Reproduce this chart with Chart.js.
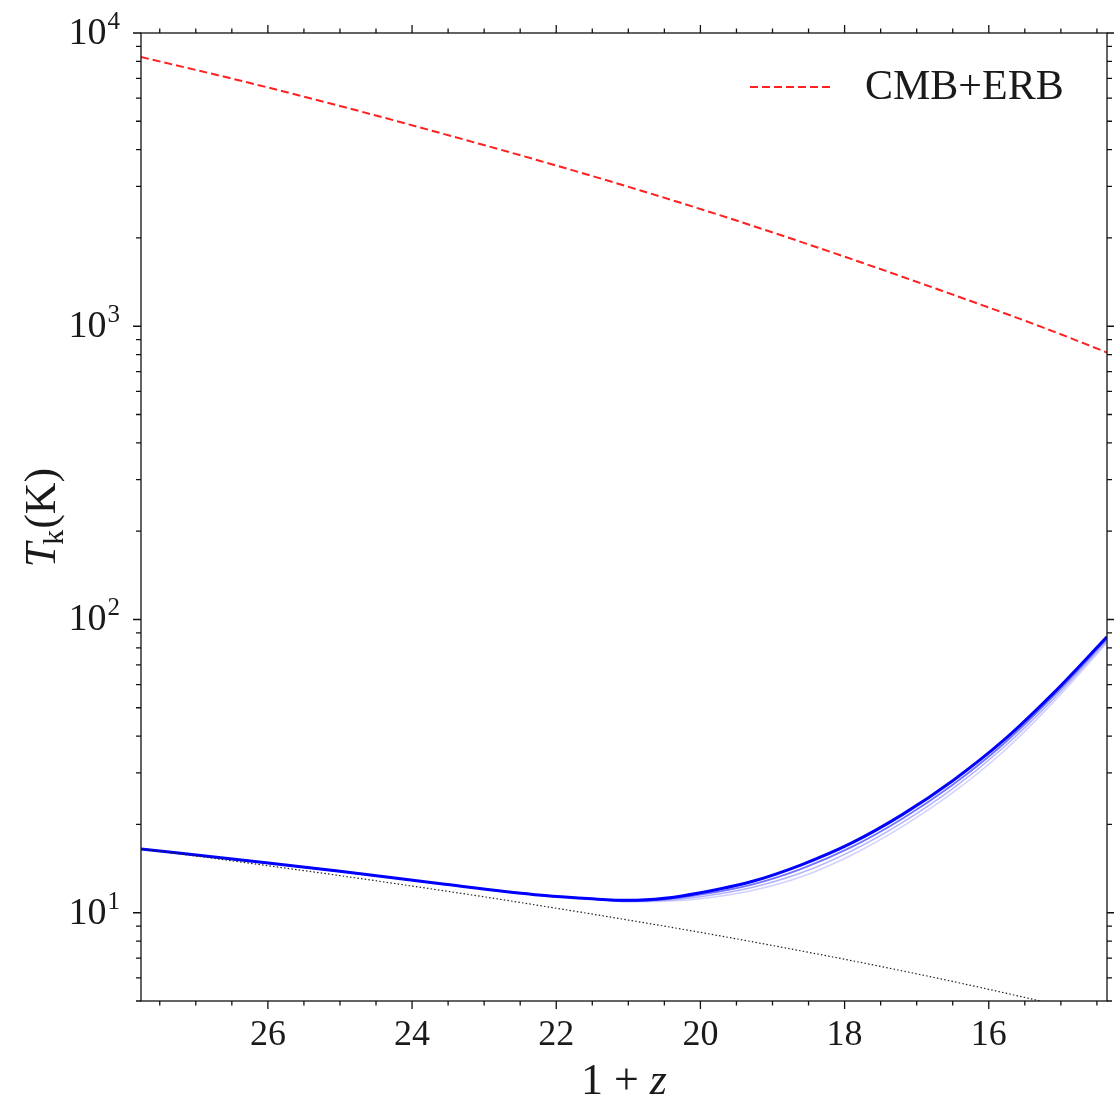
<!DOCTYPE html>
<html>
<head>
<meta charset="utf-8">
<script src="https://cdn.jsdelivr.net/npm/chart.js@4.4.1/dist/chart.umd.min.js"></script>
<style>
html, body { margin: 0; padding: 0; background: #fff; }
</style>
</head>
<body>
<canvas id="tkChart" width="1114" height="1101"></canvas>
<script>
"use strict";

/*******************
  DATA
*******************/

// CMB+ERB temperature, red dashed
var zRed = [27.76, 26.39, 25.0, 23.61, 22.22, 20.83, 19.44, 18.05, 16.66, 15.27, 14.36];
var tRed = [8282, 6887, 5638, 4561, 3661, 2904, 2268, 1743, 1324, 995, 814];

// gas kinetic temperature, family of blue curves
var zBlue = [27.76, 26.4, 25.0, 23.6, 22.2, 21.5, 21.0, 20.5, 20.0, 19.3, 18.6, 17.9, 17.2, 16.5, 15.8, 15.1, 14.36];
var tBlue1 = [16.5, 15.15, 13.85, 12.55, 11.47, 11.15, 11.02, 11.2, 11.7, 12.75, 14.57, 17.3, 21.6, 28.2, 38.6, 56.2, 87.3];
var tBlue2 = [16.5, 15.15, 13.85, 12.55, 11.47, 11.15, 10.98, 11.11, 11.52, 12.45, 14.12, 16.77, 20.93, 27.33, 37.55, 54.89, 85.94];
var tBlue3 = [16.5, 15.15, 13.85, 12.55, 11.47, 11.15, 10.93, 11.03, 11.34, 12.16, 13.68, 16.25, 20.28, 26.48, 36.54, 53.61, 84.6];
var tBlue4 = [16.5, 15.15, 13.85, 12.55, 11.47, 11.15, 10.89, 10.94, 11.16, 11.88, 13.26, 15.74, 19.66, 25.66, 35.41, 52.37, 83.28];

// adiabatic cooling, black dotted
var zAdia = [27.76, 27, 26, 25, 24, 23, 22, 21, 20, 19, 18, 17, 16, 15];
var tAdia = [16.5, 15.61, 14.47, 13.38, 12.33, 11.33, 10.36, 9.44, 8.57, 7.73, 6.94, 6.19, 5.48, 4.82];

var xTicks = [26, 24, 22, 20, 18, 16];
var yExps = [1, 2, 3, 4];

var xMin = 14.36, xMax = 27.76;
var yMin = 5, yMax = 10000;

function pts(xs, ys) {
	return xs.map(function (x, i) { return { x: x, y: ys[i] }; });
}

var serif = '"Liberation Serif", "DejaVu Serif", serif';

/*******************
  FRAME, TICKS, LABELS
*******************/

var frame = {
	id: 'frame',
	afterDraw: function (chart) {
		var ctx = chart.ctx;
		var a = chart.chartArea;
		var xs = chart.scales.x;
		var ys = chart.scales.y;
		ctx.save();

		ctx.strokeStyle = '#111';
		ctx.lineWidth = 1.3;
		ctx.strokeRect(a.left, a.top, a.right - a.left, a.bottom - a.top);

		// outward ticks on all four sides
		ctx.beginPath();
		for (var k = Math.ceil(xMin * 2); k <= Math.floor(xMax * 2); k++) {
			var v = k / 2;
			var px = xs.getPixelForValue(v);
			var len = (v % 2 === 0) ? 8 : 4.5;
			ctx.moveTo(px, a.bottom); ctx.lineTo(px, a.bottom + len);
			ctx.moveTo(px, a.top); ctx.lineTo(px, a.top - len);
		}
		for (var e = 0; e <= 4; e++) {
			for (var m = 1; m < 10; m++) {
				var val = m * Math.pow(10, e);
				if (val < yMin || val > yMax) continue;
				var py = ys.getPixelForValue(val);
				var l2 = (m === 1) ? 8 : 5;
				ctx.moveTo(a.left, py); ctx.lineTo(a.left - l2, py);
				ctx.moveTo(a.right, py); ctx.lineTo(a.right + l2, py);
			}
		}
		ctx.stroke();

		ctx.fillStyle = '#1a1a1a';

		// x tick labels
		ctx.font = '36px ' + serif;
		ctx.textAlign = 'center';
		ctx.textBaseline = 'top';
		xTicks.forEach(function (t) {
			ctx.fillText(String(t), xs.getPixelForValue(t), a.bottom + 17);
		});

		// y tick labels 10^n
		yExps.forEach(function (n) {
			var py = ys.getPixelForValue(Math.pow(10, n));
			ctx.font = '25px ' + serif;
			var ew = ctx.measureText(String(n)).width;
			ctx.textAlign = 'left';
			ctx.textBaseline = 'alphabetic';
			ctx.fillText(String(n), 120 - ew, py - 4);
			ctx.font = '38px ' + serif;
			ctx.textAlign = 'right';
			ctx.textBaseline = 'middle';
			ctx.fillText('10', 120 - ew - 1, py + 1);
		});

		// x title: 1 + z
		var cx = (a.left + a.right) / 2;
		ctx.textBaseline = 'alphabetic';
		ctx.textAlign = 'left';
		ctx.font = '44px ' + serif;
		var w1 = ctx.measureText('1 + ').width;
		ctx.font = 'italic 44px ' + serif;
		var w2 = ctx.measureText('z').width;
		var x0 = cx - (w1 + w2) / 2;
		ctx.font = '44px ' + serif;
		ctx.fillText('1 + ', x0, 1094);
		ctx.font = 'italic 44px ' + serif;
		ctx.fillText('z', x0 + w1, 1094);

		// y title: T_k(K)
		ctx.save();
		ctx.translate(55, (a.top + a.bottom) / 2);
		ctx.rotate(-Math.PI / 2);
		ctx.font = 'italic 44px ' + serif;
		var wT = ctx.measureText('T').width;
		ctx.font = '30px ' + serif;
		var wk = ctx.measureText('k').width;
		ctx.font = '44px ' + serif;
		var wK = ctx.measureText('(K)').width;
		var sx = -(wT + wk + wK) / 2;
		ctx.font = 'italic 44px ' + serif;
		ctx.fillText('T', sx, 0);
		ctx.font = '30px ' + serif;
		ctx.fillText('k', sx + wT - 2, 8);
		ctx.font = '44px ' + serif;
		ctx.fillText('(K)', sx + wT + wk - 1, 0);
		ctx.restore();

		// legend
		ctx.strokeStyle = '#ff2020';
		ctx.lineWidth = 2;
		ctx.setLineDash([8, 4]);
		ctx.beginPath();
		ctx.moveTo(a.right - 357, a.top + 54);
		ctx.lineTo(a.right - 274, a.top + 54);
		ctx.stroke();
		ctx.setLineDash([]);
		ctx.font = '42px ' + serif;
		ctx.textAlign = 'left';
		ctx.textBaseline = 'middle';
		ctx.fillText('CMB+ERB', a.right - 242, a.top + 55);

		ctx.restore();
	}
};

/*******************
  CHART
*******************/

var ctx = document.getElementById('tkChart');

var tkChart = new Chart(ctx, {
	type: 'line',
	data: {
		datasets: [{
			label: 'adiabatic',
			data: pts(zAdia, tAdia),
			borderColor: '#222',
			borderWidth: 1.2,
			borderDash: [1.5, 2.2],
			clip: 0
		}, {
			label: 'T4',
			data: pts(zBlue, tBlue4),
			borderColor: 'rgba(0, 0, 255, 0.18)',
			borderWidth: 1.5
		}, {
			label: 'T3',
			data: pts(zBlue, tBlue3),
			borderColor: 'rgba(0, 0, 255, 0.3)',
			borderWidth: 1.5
		}, {
			label: 'T2',
			data: pts(zBlue, tBlue2),
			borderColor: 'rgba(0, 0, 255, 0.55)',
			borderWidth: 1.8
		}, {
			label: 'T1',
			data: pts(zBlue, tBlue1),
			borderColor: 'rgba(0, 0, 255, 1)',
			borderWidth: 3
		}, {
			label: 'CMB+ERB',
			data: pts(zRed, tRed),
			borderColor: '#ff2020',
			borderWidth: 2,
			borderDash: [8, 4]
		}]
	},
	options: {
		responsive: false,
		animation: false,
		devicePixelRatio: 1,
		layout: {
			padding: { left: 141, right: 7, top: 33, bottom: 100 }
		},
		elements: {
			point: { radius: 0 },
			line: { cubicInterpolationMode: 'monotone', fill: false }
		},
		plugins: {
			legend: { display: false },
			tooltip: { enabled: false }
		},
		scales: {
			x: { type: 'linear', reverse: true, min: xMin, max: xMax, display: false },
			y: { type: 'logarithmic', min: yMin, max: yMax, display: false }
		}
	},
	plugins: [frame]
});
</script>
</body>
</html>
